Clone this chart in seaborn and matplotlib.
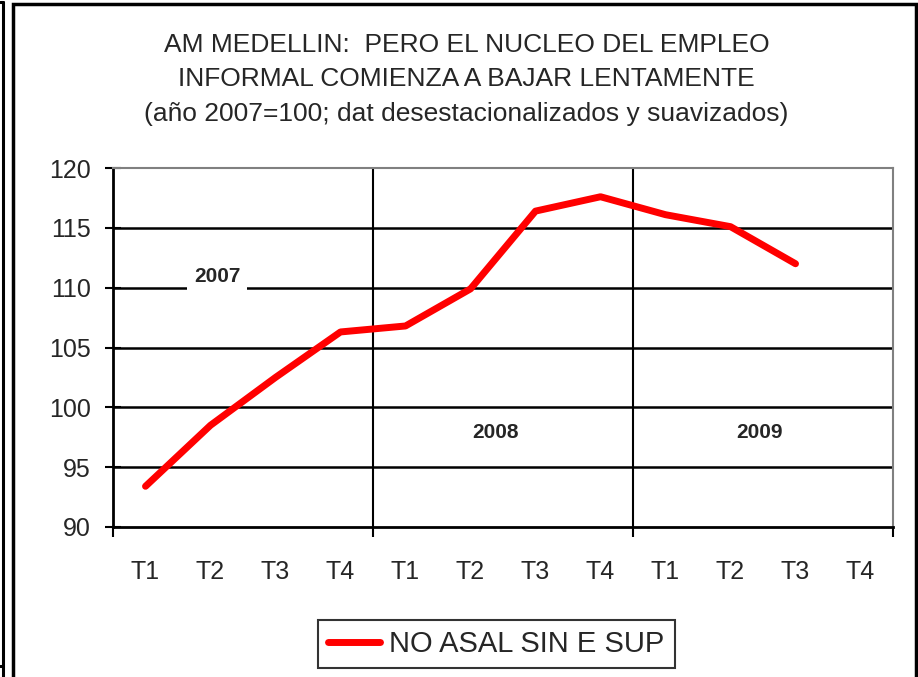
import matplotlib
matplotlib.use("Agg")
import matplotlib.pyplot as plt
from matplotlib.lines import Line2D
import seaborn as sns
import pandas as pd

quarters = ["T1", "T2", "T3", "T4"] * 3
values = [93.4, 98.5, 102.5, 106.3, 106.8, 109.9, 116.4, 117.6, 116.1, 115.1, 112.0]
series_name = "NO ASAL SIN E SUP"
year_labels = ["2007", "2008", "2009"]

df = pd.DataFrame({"idx": range(len(values)), "val": values})

sns.set_theme(style="white")
plt.rcParams["font.family"] = ["Liberation Sans", "DejaVu Sans"]

fig = plt.figure(figsize=(9.18, 6.77), dpi=100)
ax = fig.add_axes([0.1231, 0.2216, 0.8497, 0.5302])

# horizontal grid + year separators
for yv in range(95, 120, 5):
    ax.axhline(yv, color="black", lw=1.8, zorder=1)
for xv in [3.5, 7.5]:
    ax.axvline(xv, color="black", lw=1.5, zorder=1)

sns.lineplot(data=df, x="idx", y="val", color="#ff0000", lw=5, ax=ax, zorder=3,
             legend=False)

ax.set_xlim(-0.5, 11.5)
ax.set_ylim(90, 120)
ax.set_xticks(range(12))
ax.set_xticklabels(quarters, fontsize=18)
ax.set_xticks([-0.5, 3.5, 7.5, 11.5], minor=True)
ax.tick_params(axis="x", which="major", length=0, pad=24)
ax.tick_params(axis="x", which="minor", length=7, width=1.5, color="black",
               direction="out", bottom=True)
ax.set_yticks(range(90, 121, 5))
ax.tick_params(axis="y", labelsize=18, length=12, width=1.5, color="black",
               direction="inout", left=True, pad=10)
ax.set_xlabel("")
ax.set_ylabel("")

for side in ["left", "bottom"]:
    ax.spines[side].set_color("black")
    ax.spines[side].set_linewidth(2)
for side in ["top", "right"]:
    ax.spines[side].set_color("#808080")
    ax.spines[side].set_linewidth(1.5)

ax.text(1.1, 110.9, year_labels[0], fontsize=15, fontweight="bold", ha="center",
        va="center", bbox=dict(facecolor="white", edgecolor="none", pad=5), zorder=2)
ax.text(5.38, 97.9, year_labels[1], fontsize=15, fontweight="bold", ha="center",
        va="center", zorder=2)
ax.text(9.45, 97.9, year_labels[2], fontsize=15, fontweight="bold", ha="center",
        va="center", zorder=2)

fig.text(0.508, 1 - 45 / 677, "AM MEDELLIN:  PERO EL NUCLEO DEL EMPLEO",
         ha="center", va="center", fontsize=19)
fig.text(0.508, 1 - 79 / 677, "INFORMAL COMIENZA A BAJAR LENTAMENTE",
         ha="center", va="center", fontsize=19)
fig.text(0.508, 1 - 114 / 677, "(año 2007=100; dat desestacionalizados y suavizados)",
         ha="center", va="center", fontsize=19)

handle = Line2D([], [], color="#ff0000", lw=5)
leg = fig.legend([handle], [series_name], loc="center", bbox_to_anchor=(0.5405, 1 - 644 / 677),
                 fontsize=21, frameon=True, fancybox=False, handlelength=1.8,
                 handletextpad=0.3, borderpad=0.35, borderaxespad=0)
leg.get_frame().set_edgecolor("black")
leg.get_frame().set_linewidth(1.5)

# outer frames
fig.add_artist(Line2D([0.003, 0.003], [0.0, 0.997], color="black", lw=2.2,
                      transform=fig.transFigure))
fig.add_artist(Line2D([0.0, 0.003], [0.997, 0.997], color="black", lw=2.2,
                      transform=fig.transFigure))
fig.add_artist(Line2D([0.0, 0.003], [0.016, 0.016], color="black", lw=2.2,
                      transform=fig.transFigure))
fig.add_artist(plt.Rectangle((0.0145, -0.01), 0.983, 1.004, transform=fig.transFigure,
                             fill=False, edgecolor="black", lw=2.5))

fig.savefig("out.png", dpi=100)
